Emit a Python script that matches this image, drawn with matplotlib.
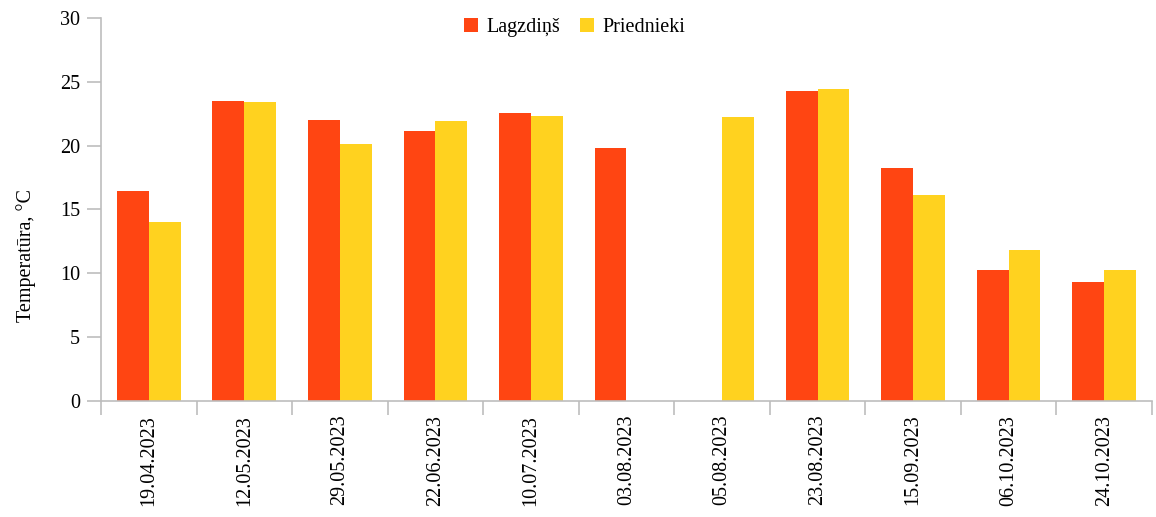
import numpy as np
import matplotlib.pyplot as plt
from matplotlib.ticker import FixedLocator, NullFormatter

plt.rcParams['font.family'] = ['Liberation Serif', 'DejaVu Serif']

# dati
dates = ["19.04.2023", "12.05.2023", "29.05.2023", "22.06.2023", "10.07.2023",
         "03.08.2023", "05.08.2023", "23.08.2023", "15.09.2023", "06.10.2023",
         "24.10.2023"]
lagzdins = [16.45, 23.5, 22.0, 21.15, 22.55, 19.8, np.nan, 24.3, 18.25, 10.25, 9.3]
priednieki = [14.0, 23.4, 20.15, 21.9, 22.3, np.nan, 22.25, 24.45, 16.15, 11.85, 10.25]

c_red = "#FF4512"
c_yel = "#FFD21F"
axis_col = "#BDBDBD"

fig = plt.figure(figsize=(11.56, 5.17), dpi=100)
ax = fig.add_axes([0.0874, 0.2244, 0.9091, 0.7408])

x = np.arange(len(dates))
w = 1 / 3
ax.bar(x - w / 2, lagzdins, width=w, color=c_red, label="Lagzdiņš")
ax.bar(x + w / 2, priednieki, width=w, color=c_yel, label="Priednieki")

ax.set_xlim(-0.5, len(dates) - 0.5)
ax.set_ylim(0, 30)
ax.set_yticks(range(0, 31, 5))

# x ticks at category boundaries, labels at centres
ax.xaxis.set_major_locator(FixedLocator(np.arange(-0.5, len(dates), 1)))
ax.xaxis.set_major_formatter(NullFormatter())
ax.xaxis.set_minor_locator(FixedLocator(x))
ax.set_xticklabels(dates, minor=True, rotation=90, fontsize=14.5)
ax.tick_params(axis='x', which='minor', length=0, pad=10)
ax.tick_params(axis='x', which='major', length=10, width=1.2, color=axis_col)
ax.tick_params(axis='y', length=10, width=1.2, color=axis_col, labelsize=14.5, pad=5)

for s in ['top', 'right']:
    ax.spines[s].set_visible(False)
for s in ['left', 'bottom']:
    ax.spines[s].set_color(axis_col)
    ax.spines[s].set_linewidth(1.2)

ax.set_ylabel("Temperatūra, °C", fontsize=14.5)
ax.yaxis.set_label_coords(-0.0615, 0.381)

fig.legend(loc='upper center', bbox_to_anchor=(0.497, 1.0), ncol=2, frameon=False,
           fontsize=14.5, handlelength=0.7, handleheight=0.7, handletextpad=0.4,
           columnspacing=1.0)

plt.savefig("out.png", dpi=100)
